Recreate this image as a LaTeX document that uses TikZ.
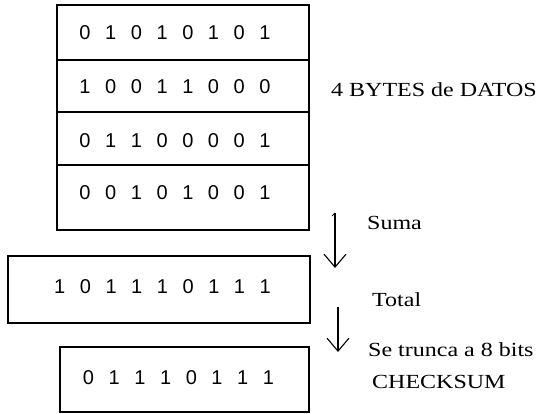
\documentclass[tikz,border=0pt]{standalone}
\usepackage{fontspec}
\newfontfamily\labfont[FakeStretch=1.2]{Liberation Serif}
\newfontfamily\bitfont{Liberation Sans}
\usetikzlibrary{arrows.meta}
\newcommand\bitrow[1]{\bitloop#1\relax}
\def\bitloop#1{\ifx#1\relax\else\makebox[25.7pt]{#1}\expandafter\bitloop\fi}
\begin{document}
\begin{tikzpicture}[x=1pt,y=-1pt,
  cell/.style={draw, line width=1.3pt, inner sep=0pt, outer sep=0pt},
  bits/.style={font=\bitfont\fontsize{20}{22}\selectfont, inner sep=0pt},
  lab/.style={font=\labfont\fontsize{20}{23}\selectfont, anchor=west, inner sep=0pt},
  arr/.style={line width=1.1pt, -{Straight Barb[length=13pt,width=22pt,line width=1.1pt]}}]
\useasboundingbox (0,0) rectangle (538,414);
% data bytes
\node[cell, minimum width=252pt, minimum height=55pt] (r1) at (183,32.5) {};
\node[cell, minimum width=252pt, minimum height=52pt] (r2) at (183,86) {};
\node[cell, minimum width=252pt, minimum height=53pt] (r3) at (183,138.5) {};
\node[cell, minimum width=252pt, minimum height=65pt] (r4) at (183,197.5) {};
\node[bits] (t1) at (175,33) {\bitrow{01010101}};
\node[bits] (t2) at (175,87) {\bitrow{10011000}};
\node[bits] (t3) at (175,141) {\bitrow{01100001}};
\node[bits] (t4) at (175,193) {\bitrow{00101001}};
% total
\node[cell, minimum width=302pt, minimum height=67pt] (tot) at (159,289.5) {};
\node[bits] (tt) at (162.5,287) {\bitrow{101110111}};
% checksum
\node[cell, minimum width=249pt, minimum height=65pt] (chk) at (184.5,379.5) {};
\node[bits] (ct) at (178.5,378) {\bitrow{01110111}};
% labels
\node[lab] (lb) at (331,90) {4 BYTES de DATOS};
\node[lab] (ls) at (367,223) {Suma};
\node[lab] (lt) at (372,300) {Total};
\node[lab] (lr) at (368,350) {Se trunca a 8 bits};
\node[lab] (lc) at (372,382) {CHECKSUM};
% arrows
\coordinate (a1h) at (332,216);
\coordinate (a1s) at (335,213);
\coordinate (a1e) at (335,268);
\coordinate (a2s) at (338,307);
\coordinate (a2e) at (338,352);
\draw[line width=1pt] (a1h) -- (a1s);
\draw[arr] (a1s) -- (a1e);
\draw[arr] (a2s) -- (a2e);
\end{tikzpicture}
\end{document}
